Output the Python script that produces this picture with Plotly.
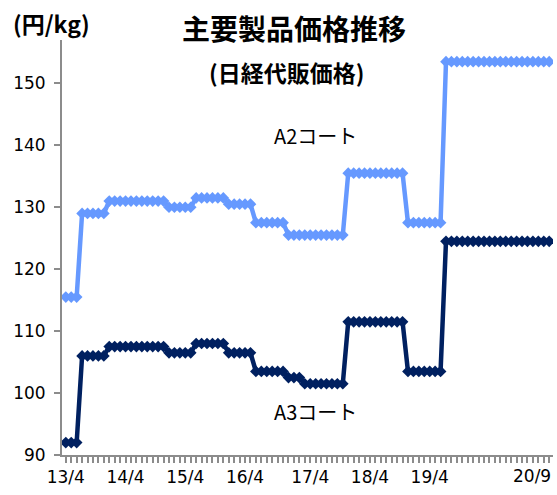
import plotly.graph_objects as go

# One category per month, 2013/4 ... 2020/9 (90 points)
months = list(range(90))
# Category labels as they sit under the axis in the reference
tick_labels = ["13/4", "", "", "", "", "", "", "", "", "", "",
               "14/4", "", "", "", "", "", "", "", "", "", "",
               "15/4", "", "", "", "", "", "", "", "", "", "",
               "16/4", "", "", "", "", "", "", "", "", "", "", "",
               "17/4", "", "", "", "", "", "", "", "", "", "",
               "18/4", "", "", "", "", "", "", "", "", "", "",
               "19/4", "", "", "", "", "", "", "", "", "", "", "",
               "", "", "", "", "", "", "", "", "", ""]
last_label = "20/9"

a2 = [115.5, 115.5, 115.5,
      129, 129, 129, 129, 129,
      131, 131, 131, 131, 131, 131, 131, 131, 131, 131, 131,
      130, 130, 130, 130, 130,
      131.5, 131.5, 131.5, 131.5, 131.5, 131.5,
      130.5, 130.5, 130.5, 130.5, 130.5,
      127.5, 127.5, 127.5, 127.5, 127.5, 127.5,
      125.5, 125.5, 125.5, 125.5, 125.5, 125.5, 125.5, 125.5, 125.5, 125.5, 125.5,
      135.5, 135.5, 135.5, 135.5, 135.5, 135.5, 135.5, 135.5, 135.5, 135.5, 135.5,
      127.5, 127.5, 127.5, 127.5, 127.5, 127.5, 127.5,
      153.5, 153.5, 153.5, 153.5, 153.5, 153.5, 153.5, 153.5, 153.5, 153.5,
      153.5, 153.5, 153.5, 153.5, 153.5, 153.5, 153.5, 153.5, 153.5, 153.5]

a3 = [92, 92, 92,
      106, 106, 106, 106, 106,
      107.5, 107.5, 107.5, 107.5, 107.5, 107.5, 107.5, 107.5, 107.5, 107.5, 107.5,
      106.5, 106.5, 106.5, 106.5, 106.5,
      108, 108, 108, 108, 108, 108,
      106.5, 106.5, 106.5, 106.5, 106.5,
      103.5, 103.5, 103.5, 103.5, 103.5, 103.5,
      102.5, 102.5, 102.5,
      101.5, 101.5, 101.5, 101.5, 101.5, 101.5, 101.5, 101.5,
      111.5, 111.5, 111.5, 111.5, 111.5, 111.5, 111.5, 111.5, 111.5, 111.5, 111.5,
      103.5, 103.5, 103.5, 103.5, 103.5, 103.5, 103.5,
      124.5, 124.5, 124.5, 124.5, 124.5, 124.5, 124.5, 124.5, 124.5, 124.5,
      124.5, 124.5, 124.5, 124.5, 124.5, 124.5, 124.5, 124.5, 124.5, 124.5]

series_names = ["A2コート", "A3コート"]
title_text = "主要製品価格推移"
subtitle_text = "(日経代販価格)"
unit_text = "(円/kg)"

JP = "Noto Sans CJK JP"
NUM = "DejaVu Sans"
GRAY = "#8c8c8c"

fig = go.Figure()
fig.add_trace(go.Scatter(x=months, y=a2, mode="lines+markers", name=series_names[0],
                         line=dict(color="#6699ff", width=4.5),
                         marker=dict(symbol="diamond", size=9, color="#6699ff")))
fig.add_trace(go.Scatter(x=months, y=a3, mode="lines+markers", name=series_names[1],
                         line=dict(color="#002060", width=4.5),
                         marker=dict(symbol="diamond", size=9, color="#002060")))

fig.update_layout(
    width=557, height=495,
    margin=dict(l=62, r=4, t=40, b=40),
    paper_bgcolor="white", plot_bgcolor="white",
    showlegend=False,
    font=dict(family=NUM, size=17, color="#000000"),
)
fig.update_xaxes(
    range=[-0.7, 89.7], tickmode="array", tickvals=months, ticktext=tick_labels,
    showgrid=False, zeroline=False, showline=True, linecolor=GRAY, linewidth=2,
    ticks="outside", ticklen=6, tickwidth=1.5, tickcolor=GRAY,
    tickfont=dict(family=NUM, size=17), tickangle=0,
)
fig.update_yaxes(
    range=[90, 157], tickmode="linear", tick0=90, dtick=10,
    showgrid=False, zeroline=False, showline=True, linecolor=GRAY, linewidth=2,
    ticks="outside", ticklen=6, tickwidth=1.5, tickcolor=GRAY,
    tickfont=dict(family=NUM, size=17), ticklabelstandoff=5,
)

anns = [
    dict(text="<b>" + title_text + "</b>", xref="paper", yref="paper", x=0.4725, y=1.028,
         showarrow=False, font=dict(family=JP, size=28, color="black"), xanchor="center", yanchor="middle"),
    dict(text="<b>" + subtitle_text + "</b>", xref="paper", yref="paper", x=0.457, y=0.923,
         showarrow=False, font=dict(family=JP, size=23, color="black"), xanchor="center", yanchor="middle"),
    dict(text="<b>" + unit_text + "</b>", xref="paper", yref="paper", x=-0.022, y=1.04,
         showarrow=False, font=dict(family=JP, size=23, color="black"), xanchor="center", yanchor="middle"),
    dict(text=series_names[0], xref="x", yref="y", x=46, y=141.6,
         showarrow=False, font=dict(family=JP, size=20, color="black"), xanchor="center", yanchor="middle"),
    dict(text=series_names[1], xref="x", yref="y", x=46, y=97.1,
         showarrow=False, font=dict(family=JP, size=20, color="black"), xanchor="center", yanchor="middle"),
    dict(text=last_label, xref="x", yref="paper", x=months[-1] + 0.7, y=0, yshift=-9,
         showarrow=False, font=dict(family=NUM, size=17, color="black"), xanchor="right", yanchor="top"),
]
fig.update_layout(annotations=anns)
fig.write_html("out.html", config={"displayModeBar": False},
               post_script="document.body.style.margin='0';document.body.style.overflow='hidden';")
